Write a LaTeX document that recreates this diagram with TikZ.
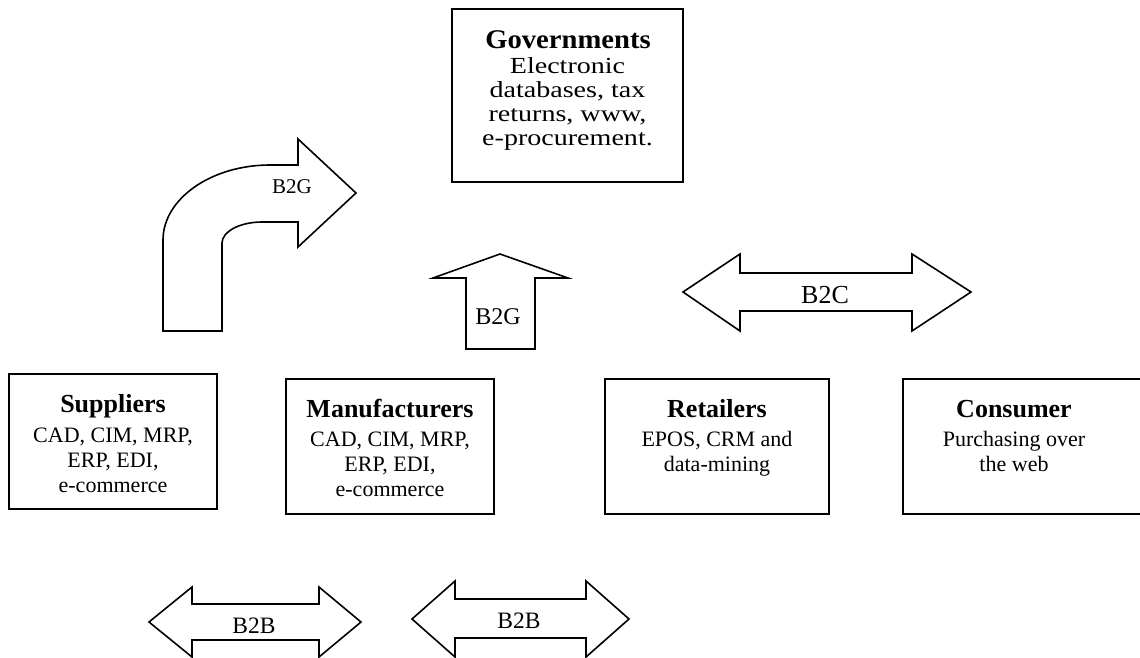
\documentclass[tikz,border=0pt]{standalone}
\usepackage{graphicx}
\usepackage{fontspec}
\setmainfont{Liberation Serif}
\begin{document}
\begin{tikzpicture}[x=1pt,y=-1pt,
  box/.style={draw=black, line width=1.6pt, fill=white, inner sep=0pt},
  ttl/.style={font=\fontsize{26}{30}\selectfont\bfseries, inner sep=0pt, anchor=base},
  ln/.style={font=\fontsize{22}{26}\selectfont, inner sep=0pt, anchor=base},
  gln/.style={font=\fontsize{23}{24}\selectfont, inner sep=0pt, anchor=base},
  shp/.style={draw=black, line width=1.6pt, line join=miter, fill=white},
  lbl/.style={inner sep=0pt, anchor=base}]
\useasboundingbox (0,0) rectangle (1140,658);
\clip (0,0) rectangle (1140,658);
% boxes
\node[box, minimum width=231pt, minimum height=173pt] (gov) at (567.5,95.5) {};
\node[box, minimum width=208pt, minimum height=135pt] (sup) at (113,441.5) {};
\node[box, minimum width=208pt, minimum height=135pt] (man) at (390,446.5) {};
\node[box, minimum width=224pt, minimum height=135pt] (ret) at (717,446.5) {};
\node[box, minimum width=250pt, minimum height=135pt] (con) at (1028,446.5) {};
% Governments
\node[ttl, font=\fontsize{27}{30}\selectfont\bfseries] (govT) at (568,49) {\scalebox{1.06}[1]{Governments}};
\node[gln] (g1) at (567.5,74) {\scalebox{1.22}[1]{Electronic}};
\node[gln] (g2) at (567.5,98) {\scalebox{1.22}[1]{databases, tax}};
\node[gln] (g3) at (567.5,122) {\scalebox{1.22}[1]{returns, www,}};
\node[gln] (g4) at (567.5,146) {\scalebox{1.22}[1]{e-procurement.}};
% Suppliers
\node[ttl] (supT) at (113,412) {Suppliers};
\node[ln] (s1) at (113,442) {CAD, CIM, MRP,};
\node[ln] (s2) at (113,467) {ERP, EDI,};
\node[ln] (s3) at (113,492) {e-commerce};
% Manufacturers
\node[ttl] (manT) at (390,417) {Manufacturers};
\node[ln] (m1) at (390,446) {CAD, CIM, MRP,};
\node[ln] (m2) at (390,471) {ERP, EDI,};
\node[ln] (m3) at (390,496) {e-commerce};
% Retailers
\node[ttl] (retT) at (717,417) {Retailers};
\node[ln] (r1) at (717,446) {EPOS, CRM and};
\node[ln] (r2) at (717,471) {data-mining};
% Consumer
\node[ttl] (conT) at (1014,417) {Consumer};
\node[ln] (c1) at (1014,446) {Purchasing over};
\node[ln] (c2) at (1014,471) {the web};
% curved arrow B2G
\draw[shp] (163,331) -- (163,240) .. controls (163,199) and (211,165) .. (270,165)
  -- (298,165) -- (298,139) -- (356,193) -- (298,247) -- (298,222) -- (262,222)
  .. controls (240,222) and (222,231.5) .. (222,243) -- (222,331) -- cycle;
\node[lbl, font=\fontsize{21}{24}\selectfont] (lcurve) at (292,193) {B2G};
% up arrow B2G
\draw[shp] (466,349) -- (466,278) -- (433,278) -- (500,254) -- (568,278) -- (535,278) -- (535,349) -- cycle;
\node[lbl, font=\fontsize{24}{26}\selectfont] (lup) at (498,324) {B2G};
% B2C
\draw[shp] (683,292) -- (740,254) -- (740,273) -- (912,273) -- (912,254) -- (971,292)
  -- (912,331) -- (912,311) -- (740,311) -- (740,331) -- cycle;
\node[lbl, font=\fontsize{26}{28}\selectfont] (lb2c) at (825,303) {B2C};
% B2B 1
\draw[shp] (149,622) -- (192,587) -- (192,604) -- (319,604) -- (319,587) -- (361,622)
  -- (319,657) -- (319,640) -- (192,640) -- (192,657) -- cycle;
\node[lbl, font=\fontsize{23.5}{26}\selectfont] (lb2b1) at (254,633) {B2B};
% B2B 2
\draw[shp] (412,619) -- (455,581) -- (455,599) -- (586,599) -- (586,581) -- (629,619)
  -- (586,657) -- (586,638) -- (455,638) -- (455,657) -- cycle;
\node[lbl, font=\fontsize{23.5}{26}\selectfont] (lb2b2) at (519,628) {B2B};
\end{tikzpicture}
\end{document}
